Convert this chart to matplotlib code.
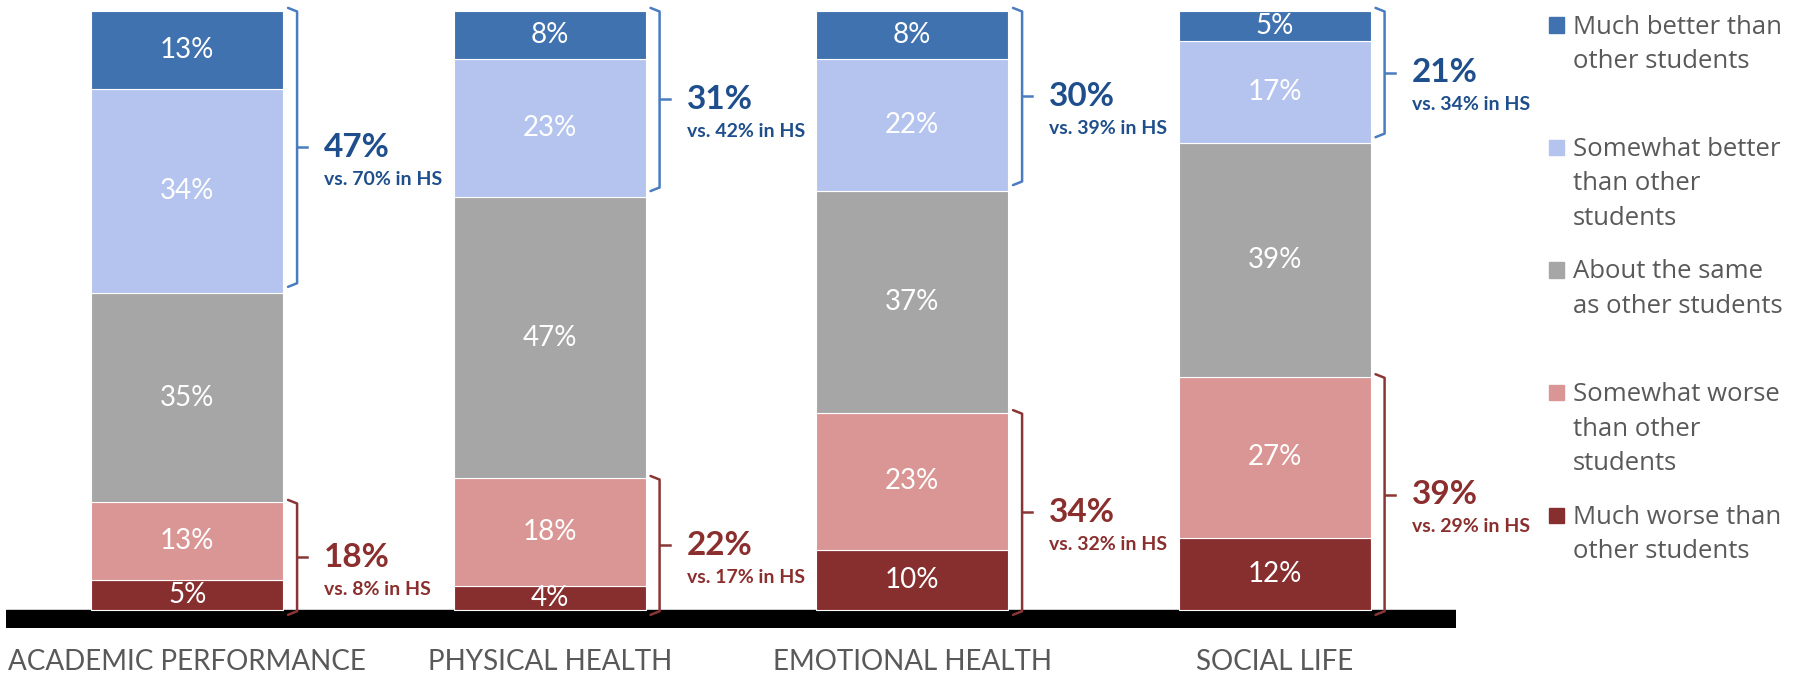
"""
Self-rated standing vs. other students - stacked bars with bracket callouts.
"""

import matplotlib
matplotlib.use("Agg")
import matplotlib.pyplot as plt
from matplotlib.patches import Rectangle
from matplotlib.transforms import blended_transform_factory

# Data
categories = ["ACADEMIC PERFORMANCE", "PHYSICAL HEALTH", "EMOTIONAL HEALTH", "SOCIAL LIFE"]
much_worse = [5, 4, 10, 12]
somewhat_worse = [13, 18, 23, 27]
about_same = [35, 47, 37, 39]
somewhat_better = [34, 23, 22, 17]
much_better = [13, 8, 8, 5]

better_total = [47, 31, 30, 21]
better_hs = [70, 42, 39, 34]
worse_total = [18, 22, 34, 39]
worse_hs = [8, 17, 32, 29]

legend_labels = [
    "Much better than\nother students",
    "Somewhat better\nthan other\nstudents",
    "About the same\nas other students",
    "Somewhat worse\nthan other\nstudents",
    "Much worse than\nother students",
]

# Styling
C_MUCH_BETTER = "#4072B0"
C_SOME_BETTER = "#B4C4EE"
C_SAME = "#A6A6A6"
C_SOME_WORSE = "#DA9694"
C_MUCH_WORSE = "#872F2F"
BLUE_TEXT = "#1F4E8C"
BLUE_LINE = "#4A7CC0"
RED_TEXT = "#8B2E2E"
RED_LINE = "#8B3636"
GRAY_TEXT = "#595959"

LABEL_FONT = ["Lato", "DejaVu Sans"]
LEGEND_FONT = ["Open Sans", "DejaVu Sans"]

fig = plt.figure(figsize=(17.96, 6.74), dpi=100)
ax = fig.add_axes([6 / 1796, 46 / 674, 1450 / 1796, 616.5 / 674])
ax.set_xlim(-0.5, 3.5)
ax.set_ylim(-3.0, 100)
ax.axis("off")

# thick black baseline
ax.axhspan(-3.0, 0, color="black", zorder=1)

x = list(range(len(categories)))
width = 0.53
series = [
    (much_worse, C_MUCH_WORSE),
    (somewhat_worse, C_SOME_WORSE),
    (about_same, C_SAME),
    (somewhat_better, C_SOME_BETTER),
    (much_better, C_MUCH_BETTER),
]

bottom = [0] * len(categories)
for values, color in series:
    ax.bar(x, values, width, bottom=bottom, color=color, edgecolor="white",
           linewidth=0.8, zorder=2)
    for i, v in enumerate(values):
        ax.text(x[i], bottom[i] + v / 2, f"{v}%", ha="center", va="center",
                color="white", fontsize=20, family=LABEL_FONT, zorder=4)
    bottom = [b + v for b, v in zip(bottom, values)]


def bracket(xc, y0, y1, color):
    """Right-facing curly-ish bracket from y0 (bottom) to y1 (top)."""
    xv = xc + width / 2 + 0.038
    hook = 0.025
    tick = 0.028
    ym = (y0 + y1) / 2
    ax.plot([xv - hook, xv, xv, xv - hook], [y1, y1 - 0.6, y0 + 0.6, y0],
            color=color, lw=1.8, solid_capstyle="round", clip_on=False, zorder=3)
    ax.plot([xv, xv + tick], [ym, ym], color=color, lw=1.8, clip_on=False, zorder=3)
    return xv, ym


for i in range(len(categories)):
    # better bracket (top two segments)
    top = bottom[i]
    low = top - much_better[i] - somewhat_better[i]
    xv, ym = bracket(x[i], low + 1.0, top + 0.6, BLUE_LINE)
    ax.text(xv + 0.075, ym, f"{better_total[i]}%", ha="left", va="center",
            color=BLUE_TEXT, fontsize=24, fontweight="bold", family=LABEL_FONT)
    ax.text(xv + 0.075, ym - 5.4, f"vs. {better_hs[i]}% in HS", ha="left", va="center",
            color=BLUE_TEXT, fontsize=14, fontweight="bold", family=LABEL_FONT)

    # worse bracket (bottom two segments)
    high = much_worse[i] + somewhat_worse[i]
    xv, ym = bracket(x[i], -0.8, high + 0.4, RED_LINE)
    ax.text(xv + 0.075, ym, f"{worse_total[i]}%", ha="left", va="center",
            color=RED_TEXT, fontsize=24, fontweight="bold", family=LABEL_FONT)
    ax.text(xv + 0.075, ym - 5.4, f"vs. {worse_hs[i]}% in HS", ha="left", va="center",
            color=RED_TEXT, fontsize=14, fontweight="bold", family=LABEL_FONT)

# category labels along the bottom edge
trans = blended_transform_factory(ax.transData, fig.transFigure)
for i, name in enumerate(categories):
    ax.text(x[i], 4 / 674, name, transform=trans, ha="center", va="baseline",
            color=GRAY_TEXT, fontsize=20, family=LABEL_FONT)

# legend, top to bottom, evenly spaced by first line
legend_colors = [C_MUCH_BETTER, C_SOME_BETTER, C_SAME, C_SOME_WORSE, C_MUCH_WORSE]
first_line_y = 25
step = 122.5
for k, (lab, col) in enumerate(zip(legend_labels, legend_colors)):
    yc = first_line_y + k * step
    fig.patches.append(Rectangle((1549 / 1796, 1 - (yc + 7.5) / 674), 15 / 1796, 15 / 674,
                                 transform=fig.transFigure, color=col))
    fig.text(1573 / 1796, 1 - (yc - 10.5) / 674, lab, ha="left", va="top",
             color=GRAY_TEXT, fontsize=18.5, family=LEGEND_FONT, linespacing=1.5)

fig.savefig("out.png", dpi=100)
